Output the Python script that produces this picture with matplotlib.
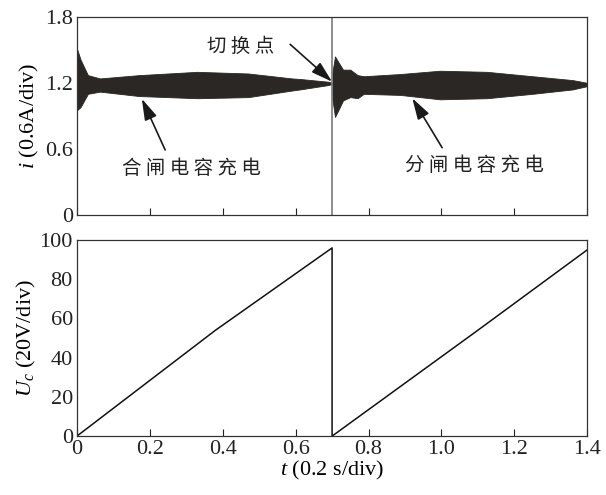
#Capacitor charging current and voltage, closing then opening
import matplotlib.pyplot as plt

plt.rcParams['font.family'] = ['Liberation Serif', 'Noto Sans CJK SC']
plt.rcParams['mathtext.fontset'] = 'custom'
plt.rcParams['mathtext.rm'] = 'Liberation Serif'
plt.rcParams['mathtext.it'] = 'Liberation Serif:italic'

#current envelope (units of the 0.6A/div scale)
close_t = [0.0, 0.01, 0.03, 0.063, 0.17, 0.33, 0.47, 0.59, 0.612, 0.69, 0.699]
close_hi = [1.51, 1.41, 1.27, 1.24, 1.27, 1.30, 1.285, 1.24, 1.235, 1.21, 1.20]
close_lo = [0.95, 0.98, 1.10, 1.12, 1.08, 1.06, 1.07, 1.13, 1.14, 1.18, 1.19]

open_t = [0.701, 0.708, 0.717, 0.73, 0.75, 0.77, 0.787, 0.887, 0.996, 1.125, 1.25, 1.36, 1.4]
open_hi = [1.30, 1.44, 1.39, 1.32, 1.32, 1.27, 1.26, 1.28, 1.31, 1.30, 1.26, 1.225, 1.20]
open_lo = [1.05, 0.89, 0.95, 1.04, 1.07, 1.06, 1.10, 1.09, 1.05, 1.06, 1.10, 1.14, 1.17]

#switching spike
switch_t = [0.7, 0.7]
switch_i = [0.0, 1.8]

#capacitor voltage (20V/div)
uc_t = [0.0, 0.38, 0.7, 0.7, 1.1, 1.4]
uc_v = [0.0, 54, 96, 0.0, 54, 95]

xticks = [0, 0.2, 0.4, 0.6, 0.8, 1.0, 1.2, 1.4]
xlabels = ['0', '0.2', '0.4', '0.6', '0.8', '1.0', '1.2', '1.4']

fig = plt.figure(figsize=(6.06, 4.95), dpi=100)
ax1 = fig.add_axes([0.127, 0.566, 0.842, 0.40])
ax2 = fig.add_axes([0.127, 0.119, 0.842, 0.396])

band = '#2b2724'
ax1.fill_between(close_t, close_lo, close_hi, color=band, lw=0.6, edgecolor=band)
ax1.fill_between(open_t, open_lo, open_hi, color=band, lw=0.6, edgecolor=band)
ax1.plot(switch_t, switch_i, color='#7a7a7a', lw=1.2)

ax1.set_xlim(0, 1.4)
ax1.set_ylim(0, 1.8)
ax1.set_yticks([0, 0.6, 1.2, 1.8])
ax1.set_yticklabels(['0', '0.6', '1.2', '1.8'])
ax1.set_xticks(xticks)
ax1.set_xticklabels([])
ax1.set_ylabel(r'$i$ (0.6A/div)', fontsize=16, labelpad=3)

kw = dict(arrowprops=dict(arrowstyle='-|>,head_length=1.0,head_width=0.3',
                          color='#1a1a1a', lw=1.2, mutation_scale=13,
                          shrinkA=0, shrinkB=0))
ax1.annotate('', xy=(0.178, 1.055), xytext=(0.242, 0.59), **kw)
ax1.annotate('', xy=(0.70, 1.21), xytext=(0.585, 1.55), **kw)
ax1.annotate('', xy=(0.92, 1.06), xytext=(1.002, 0.61), **kw)
cjk = dict(fontsize=14, ha='center', va='center', color='#222222',
           family=['Noto Sans CJK SC'], fontweight='light')
ax1.text(0.313, 0.42, '合 闸 电 容 充 电', **cjk)
ax1.text(1.09, 0.445, '分 闸 电 容 充 电', **cjk)
ax1.text(0.45, 1.53, '切 换 点', **cjk)

ax2.plot(uc_t, uc_v, color='#111111', lw=1.1)
ax2.set_xlim(0, 1.4)
ax2.set_ylim(0, 100)
ax2.set_yticks([0, 20, 40, 60, 80, 100])
ax2.set_xticks(xticks)
ax2.set_xticklabels(xlabels)
ax2.set_ylabel(r'$U_c$ (20V/div)', fontsize=16, labelpad=1)
ax2.set_xlabel(r'$t$ (0.2 s/div)', fontsize=16, labelpad=0)

for ax in (ax1, ax2):
    ax.tick_params(direction='in', labelsize=16, length=5, width=0.8,
                   colors='#222222', left=False, pad=3)
    for s in ax.spines.values():
        s.set_linewidth(0.9)
        s.set_color('#333333')

fig.savefig('out.png', dpi=100)
